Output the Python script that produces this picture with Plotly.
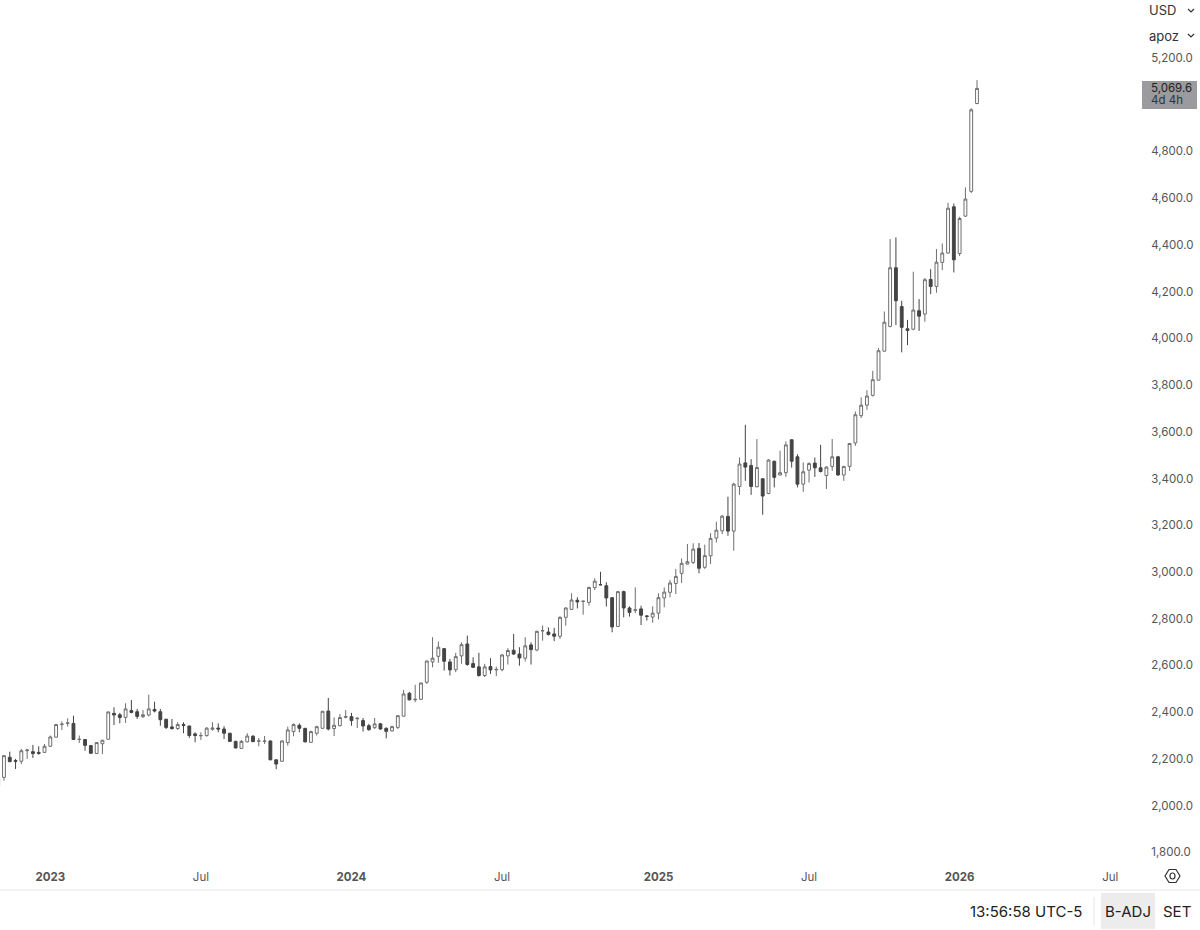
import pandas as pd
import plotly.graph_objects as go

# weekly bars, one row of prices per week starting from the first date
first_week = "2022-10-31"

opens = [
    2085, 2121, 2207, 2193, 2190, 2235, 2231, 2228, 2228, 2254, 2293, 2347, 2352, 2352, 2283, 2283,
    2257, 2223, 2265, 2284, 2395, 2389, 2378, 2407, 2402, 2381, 2388, 2412, 2402, 2370, 2337, 2330,
    2347, 2341, 2307, 2299, 2300, 2327, 2332, 2328, 2310, 2275, 2245, 2273, 2297, 2276, 2275, 2277,
    2196, 2190, 2270, 2317, 2344, 2331, 2271, 2310, 2331, 2405, 2330, 2342, 2378, 2381, 2372, 2364,
    2342, 2334, 2350, 2331, 2320, 2335, 2383, 2481, 2453, 2455, 2528, 2615, 2639, 2672, 2615, 2582,
    2641, 2692, 2608, 2594, 2557, 2595, 2581, 2582, 2641, 2665, 2649, 2631, 2688, 2666, 2748, 2743,
    2735, 2725, 2806, 2840, 2879, 2874, 2870, 2933, 2946, 2941, 2890, 2767, 2916, 2846, 2836, 2842,
    2812, 2807, 2824, 2889, 2913, 2951, 2994, 3034, 3041, 3101, 3020, 3069, 3145, 3176, 3238, 3175,
    3366, 3467, 3456, 3365, 3399, 3336, 3474, 3415, 3425, 3566, 3493, 3376, 3436, 3466, 3446, 3413,
    3452, 3493, 3415, 3452, 3552, 3669, 3714, 3756, 3821, 3945, 4051, 4302, 4136, 4041, 4039, 4118,
    4104, 4252, 4222, 4325, 4365, 4563, 4363, 4523, 4629, 5005,
]
highs = [
    2125, 2215, 2231, 2200, 2243, 2243, 2260, 2254, 2264, 2300, 2350, 2361, 2374, 2385, 2300, 2285,
    2260, 2271, 2281, 2402, 2421, 2397, 2438, 2452, 2414, 2409, 2475, 2445, 2414, 2371, 2371, 2357,
    2357, 2342, 2314, 2314, 2335, 2357, 2352, 2340, 2311, 2278, 2281, 2310, 2302, 2290, 2298, 2278,
    2198, 2278, 2338, 2352, 2352, 2332, 2321, 2342, 2405, 2461, 2378, 2392, 2409, 2397, 2378, 2375,
    2350, 2375, 2354, 2335, 2342, 2388, 2495, 2487, 2517, 2527, 2621, 2721, 2702, 2674, 2628, 2654,
    2699, 2728, 2635, 2654, 2607, 2631, 2595, 2649, 2674, 2735, 2678, 2721, 2699, 2749, 2771, 2763,
    2761, 2810, 2849, 2909, 2892, 2877, 2937, 2973, 3001, 2956, 2892, 2917, 2920, 2853, 2934, 2856,
    2815, 2853, 2909, 2934, 2966, 3013, 3058, 3120, 3123, 3124, 3117, 3166, 3215, 3243, 3322, 3382,
    3490, 3630, 3483, 3569, 3400, 3483, 3476, 3519, 3559, 3567, 3504, 3469, 3469, 3490, 3544, 3452,
    3569, 3497, 3454, 3551, 3687, 3747, 3778, 3861, 3958, 4115, 4425, 4432, 4161, 4079, 4285, 4168,
    4258, 4296, 4382, 4406, 4580, 4577, 4520, 4646, 4985, 5105,
]
lows = [
    2070, 2107, 2187, 2157, 2178, 2200, 2204, 2218, 2227, 2253, 2292, 2324, 2338, 2282, 2268, 2235,
    2223, 2221, 2221, 2283, 2345, 2352, 2354, 2395, 2371, 2375, 2382, 2399, 2342, 2328, 2325, 2324,
    2310, 2290, 2271, 2281, 2295, 2321, 2314, 2285, 2274, 2245, 2244, 2271, 2273, 2254, 2264, 2195,
    2156, 2188, 2257, 2297, 2314, 2271, 2270, 2300, 2330, 2322, 2298, 2340, 2374, 2342, 2332, 2317,
    2321, 2328, 2325, 2288, 2317, 2328, 2381, 2450, 2443, 2454, 2521, 2592, 2611, 2578, 2557, 2571,
    2607, 2599, 2591, 2552, 2550, 2564, 2554, 2575, 2604, 2645, 2599, 2617, 2604, 2661, 2706, 2728,
    2704, 2713, 2770, 2837, 2844, 2817, 2856, 2923, 2944, 2852, 2742, 2766, 2806, 2809, 2824, 2773,
    2792, 2783, 2797, 2849, 2892, 2906, 2953, 3033, 3034, 2994, 3013, 3034, 3126, 3162, 3155, 3091,
    3330, 3390, 3330, 3362, 3245, 3333, 3362, 3414, 3407, 3447, 3362, 3343, 3383, 3407, 3426, 3355,
    3433, 3413, 3390, 3433, 3540, 3659, 3694, 3751, 3820, 3944, 4047, 4057, 3940, 3971, 4035, 4032,
    4071, 4189, 4195, 4292, 4363, 4282, 4352, 4520, 4622, 5002,
]
closes = [
    2121, 2214, 2188, 2190, 2235, 2238, 2223, 2224, 2254, 2294, 2347, 2349, 2354, 2283, 2284, 2258,
    2224, 2270, 2280, 2401, 2388, 2377, 2414, 2399, 2382, 2389, 2414, 2405, 2368, 2335, 2330, 2347,
    2344, 2300, 2300, 2300, 2332, 2332, 2328, 2310, 2275, 2247, 2275, 2298, 2274, 2277, 2276, 2196,
    2178, 2277, 2324, 2347, 2331, 2273, 2317, 2338, 2404, 2328, 2344, 2377, 2381, 2364, 2374, 2341,
    2325, 2350, 2328, 2318, 2338, 2385, 2478, 2453, 2455, 2525, 2619, 2631, 2678, 2618, 2581, 2638,
    2689, 2604, 2592, 2557, 2594, 2581, 2583, 2645, 2664, 2649, 2632, 2684, 2668, 2746, 2749, 2733,
    2725, 2806, 2846, 2880, 2872, 2875, 2934, 2961, 2945, 2889, 2765, 2916, 2846, 2827, 2838, 2815,
    2810, 2824, 2890, 2914, 2953, 2981, 3037, 3044, 3098, 3016, 3070, 3144, 3179, 3239, 3175, 3376,
    3462, 3449, 3366, 3447, 3325, 3479, 3405, 3425, 3544, 3474, 3376, 3429, 3464, 3446, 3430, 3449,
    3493, 3415, 3452, 3550, 3673, 3714, 3753, 3823, 3947, 4069, 4302, 4161, 4047, 4034, 4121, 4095,
    4251, 4222, 4326, 4365, 4557, 4336, 4513, 4596, 4978, 5069.6,
]

x_tick_dates = ["2023-01-02", "2023-07-03", "2024-01-01", "2024-07-01", "2025-01-06", "2025-07-07", "2026-01-05", "2026-07-06"]
x_tick_labels = ["<b>2023</b>", "Jul", "<b>2024</b>", "Jul", "<b>2025</b>", "Jul", "<b>2026</b>", "Jul"]
# 5,000 sits behind the last-price label
y_ticks = [1800, 2000, 2200, 2400, 2600, 2800, 3000, 3200, 3400, 3600, 3800, 4000, 4200, 4400, 4600, 4800, 5200]

PLOT_W = 1140
PLOT_H = 865
FONT = "Inter"


def px(x):
    return x / PLOT_W


def py(y):
    return (PLOT_H - y) / PLOT_H


def note(x, y, text, size=13, color="#333333", anchor="center"):
    return dict(
        x=px(x), y=py(y), xref="paper", yref="paper", text=text, showarrow=False,
        xanchor=anchor, yanchor="middle", borderpad=0, font=dict(family=FONT, size=size, color=color),
    )


def line(x0, y0, x1, y1, color="#e6e6e6"):
    return dict(
        type="line", xref="paper", yref="paper", x0=px(x0), y0=py(y0), x1=px(x1), y1=py(y1),
        line=dict(color=color, width=1),
    )


def box(x0, y0, x1, y1, fill):
    return dict(
        type="rect", xref="paper", yref="paper", x0=px(x0), y0=py(y0), x1=px(x1), y1=py(y1),
        fillcolor=fill, line=dict(width=0),
    )


def poly(points, color="#333333", closed=False):
    d = "M" + " L".join(f"{px(a):.5f},{py(b):.5f}" for a, b in points) + (" Z" if closed else "")
    return dict(type="path", xref="paper", yref="paper", path=d, line=dict(color=color, width=1.2))


dates = pd.date_range(first_week, periods=len(closes), freq="7D")

fig = go.Figure(go.Candlestick(
    x=dates, open=opens, high=highs, low=lows, close=closes,
    increasing=dict(line=dict(color="#6e6e6e", width=1), fillcolor="#ffffff"),
    decreasing=dict(line=dict(color="#444444", width=1), fillcolor="#444444"),
    whiskerwidth=0,
))

shapes = [
    line(0, 890, 1200, 890),
    line(1094, 897, 1094, 925),
    box(1101, 893, 1155, 929, "#ececec"),
    box(1142, 81, 1197, 109, "#9a9a9f"),
    box(1145, 0, 1197, 50, "#ffffff"),
    poly([(1188, 9), (1191, 12), (1194, 9)]),
    poly([(1188, 34), (1191, 37), (1194, 34)]),
    # settings hexagon
    poly([(1165, 876), (1169, 869.5), (1176, 869.5), (1180, 876), (1176, 882.5), (1169, 882.5)], closed=True),
    dict(
        type="circle", xref="paper", yref="paper", x0=px(1170), y0=py(873), x1=px(1175), y1=py(879),
        line=dict(color="#333333", width=1.2),
    ),
]

annotations = [
    note(1148, 10, "USD", anchor="left"),
    note(1148, 36, "apoz", anchor="left"),
    note(1150, 88, "5,069.6", size=11.5, color="#222222", anchor="left"),
    note(1150, 100.5, "4d 4h", size=11.5, color="#333333", anchor="left"),
    note(1083, 911, "13:56:58 UTC-5", size=15, color="#222222", anchor="right"),
    note(1128, 911, "B-ADJ", size=15, color="#222222"),
    note(1177, 911, "SET", size=15, color="#222222"),
]

fig.update_layout(
    width=1200, height=930, autosize=False,
    margin=dict(l=0, r=60, t=0, b=65),
    paper_bgcolor="#ffffff", plot_bgcolor="#ffffff",
    showlegend=False,
    font=dict(family=FONT, size=12, color="#555555"),
    shapes=shapes, annotations=annotations,
    xaxis=dict(
        type="date", range=["2022-11-02 05:00", "2026-08-11"], rangeslider_visible=False,
        tickmode="array", tickvals=x_tick_dates, ticktext=x_tick_labels,
        showgrid=False, zeroline=False, showline=False,
        ticks="outside", ticklen=1, tickcolor="rgba(0,0,0,0)",
        tickangle=0, tickfont=dict(family=FONT, size=11.5, color="#555555"),
    ),
    yaxis=dict(
        side="right", range=[1746, 5448], tickmode="array", tickvals=y_ticks, tickformat=",.1f",
        showgrid=False, zeroline=False, showline=False,
        ticks="outside", ticklen=8, tickcolor="rgba(0,0,0,0)",
        tickfont=dict(family=FONT, size=11.5, color="#555555"),
    ),
)

# the page's default body margin would push the 1200x930 figure off the window
fig.write_html(
    "out.html",
    config={"displayModeBar": False},
    post_script="document.body.style.margin = '0'; document.documentElement.style.overflow = 'hidden';",
)
